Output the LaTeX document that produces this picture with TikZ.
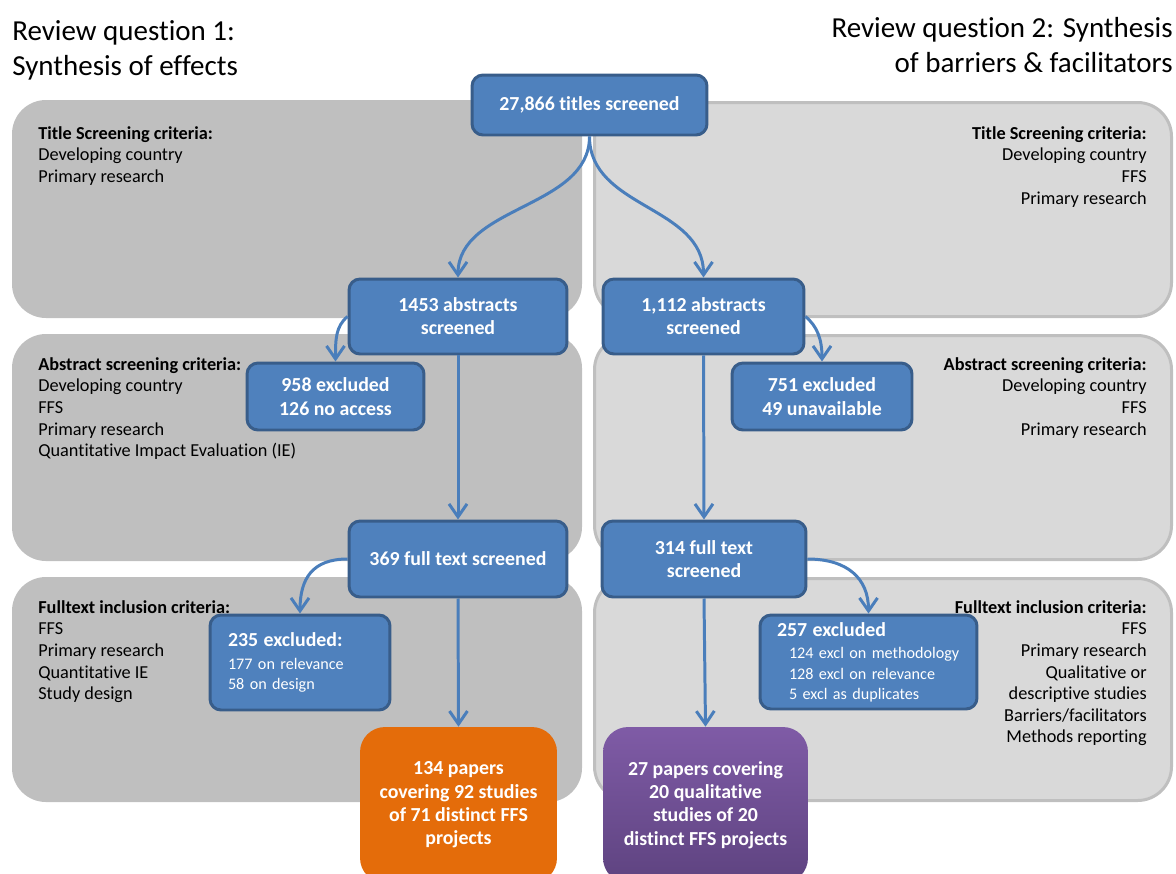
\documentclass[tikz,border=0pt]{standalone}
\usepackage{fontspec}
\setmainfont{Carlito}[Ligatures=NoCommon]
\usetikzlibrary{arrows.meta}

\definecolor{boxblue}{HTML}{4F81BD}
\definecolor{boxedge}{HTML}{385D8A}
\definecolor{linkblue}{HTML}{4A7EBB}
\definecolor{paneldark}{HTML}{BFBFBF}
\definecolor{panellight}{HTML}{D9D9D9}
\definecolor{orangebox}{HTML}{E46C0A}
\definecolor{purpletop}{HTML}{7F5BA6}
\definecolor{purplebottom}{HTML}{5E4380}

\begin{document}
\begin{tikzpicture}[x=0.02cm, y=-0.02cm,
    panelL/.style={fill=paneldark, rounded corners=0.68cm},
    panelR/.style={fill=panellight, draw=paneldark, line width=1.7pt, rounded corners=0.68cm},
    heading/.style={inner sep=0pt, font=\fontsize{16.5}{19.9}\selectfont},
    crit/.style={inner sep=0pt, font=\fontsize{10.4}{12.3}\selectfont},
    stage/.style={fill=boxblue, draw=boxedge, line width=1.7pt, rounded corners=0.22cm,
        text=white, align=center, inner sep=0pt, font=\bfseries\fontsize{11.3}{13.2}\selectfont},
    dropped/.style={stage, align=left, font=\fontsize{9.2}{11.4}\selectfont},
    result/.style={rounded corners=0.5cm, text=white, align=center, inner sep=0pt,
        minimum height=3.12cm, font=\bfseries\fontsize{11.3}{13.3}\selectfont},
    link/.style={draw=linkblue, line width=1.7pt, -{Straight Barb[length=0.26cm, width=0.36cm]}}]

    \useasboundingbox (0,0) rectangle (1176,873);

    \fill[panelL] (12,100) rectangle (582,318);
    \fill[panelL] (12,334) rectangle (582,561);
    \fill[panelL] (12,577) rectangle (582,802);
    \draw[panelR] (594.5,102.5) rectangle (1171.5,316.5);
    \draw[panelR] (594.5,335.5) rectangle (1171.5,559.5);
    \draw[panelR] (594.5,578.5) rectangle (1171.5,800.5);

    \node[heading, anchor=north west, align=left] (q1) at (12,20) {Review question 1:\\Synthesis of effects};
    \node[heading, anchor=north east, align=right] (q2) at (1173,17) {Review question 2: Synthesis\\of barriers \& facilitators};

    \node[crit, anchor=north west, align=left] (titlecritL) at (38,126)
        {\textbf{Title Screening criteria:}\\Developing country\\Primary research};
    \node[crit, anchor=north east, align=right] (titlecritR) at (1147,126)
        {\textbf{Title Screening criteria:}\\Developing country\\FFS\\Primary research};
    \node[crit, anchor=north west, align=left] (abscritL) at (38,357)
        {\textbf{Abstract screening criteria:}\\Developing country\\FFS\\Primary research\\Quantitative Impact Evaluation (IE)};
    \node[crit, anchor=north east, align=right] (abscritR) at (1147,357)
        {\textbf{Abstract screening criteria:}\\Developing country\\FFS\\Primary research};
    \node[crit, anchor=north west, align=left] (fullcritL) at (38,600)
        {\textbf{Fulltext inclusion criteria:}\\FFS\\Primary research\\Quantitative IE\\Study design};
    \node[crit, anchor=north east, align=right] (fullcritR) at (1147,600)
        {\textbf{Fulltext inclusion criteria:}\\FFS\\Primary research\\Qualitative or\\descriptive studies\\Barriers/facilitators\\Methods reporting};

    \node[stage, minimum width=4.7cm, minimum height=1.2cm] (titles) at (589.5,105) {27,866 titles screened};
    \node[stage, minimum width=4.36cm, minimum height=1.5cm] (abs1) at (458,316.5) {1453 abstracts\\screened};
    \node[stage, minimum width=4.02cm, minimum height=1.5cm] (abs2) at (703.5,316.5) {1,112 abstracts\\screened};
    \node[stage, minimum width=3.54cm, minimum height=1.34cm] (drop1) at (335.5,396.5) {958 excluded\\126 no access};
    \node[stage, minimum width=3.6cm, minimum height=1.34cm] (drop2) at (822,396.5) {751 excluded\\49 unavailable};
    \node[stage, minimum width=4.36cm, minimum height=1.52cm] (full1) at (458,559) {369 full text screened};
    \node[stage, minimum width=4.08cm, minimum height=1.52cm] (full2) at (704,559) {314 full text\\screened};
    \node[dropped, text width=2.88cm, inner xsep=0.36cm, minimum height=1.9cm] (fdrop1) at (300,662.5)
        {{\bfseries\fontsize{11.3}{13.2}\selectfont 235 excluded:}\\[1.5pt]177 on relevance\\58 on design};
    \node[dropped, text width=3.66cm, inner xsep=0.34cm, minimum height=1.88cm] (fdrop2) at (868.5,662)
        {{\bfseries\fontsize{11.3}{13.2}\selectfont 257 excluded}\\[1.5pt]\hspace*{0.24cm}124 excl on methodology\\\hspace*{0.24cm}128 excl on relevance\\\hspace*{0.24cm}5 excl as duplicates};
    \node[result, fill=orangebox, minimum width=3.94cm] (effects) at (458.5,805)
        {134 papers\\covering 92 studies\\of 71 distinct FFS\\projects};
    \node[result, top color=purpletop, bottom color=purplebottom, minimum width=4.1cm] (barriers) at (705.5,805)
        {27 papers covering\\20 qualitative\\studies of 20\\distinct FFS projects};

    \draw[link] (titles.south) .. controls +(0,72) and +(0,-72) .. (abs1.north);
    \draw[link] (titles.south) .. controls +(0,72) and +(0,-72) .. (abs2.north);
    \draw[link] (abs1.west) .. controls +(-12,10) and +(0,-22) .. (drop1.north);
    \draw[link] (abs1.south) -- (full1.north);
    \draw[link] (abs2.east) .. controls +(12,10) and +(0,-22) .. (drop2.north);
    \draw[link] (abs2.south) -- (full2.north);
    \draw[link] (full1.west) .. controls +(-35,0) and +(0,-35) .. (fdrop1.north);
    \draw[link] (full1.south) -- (effects.north);
    \draw[link] (full2.east) .. controls +(40,0) and +(0,-35) .. (fdrop2.north);
    \draw[link] (full2.south) -- (barriers.north);
\end{tikzpicture}
\end{document}
